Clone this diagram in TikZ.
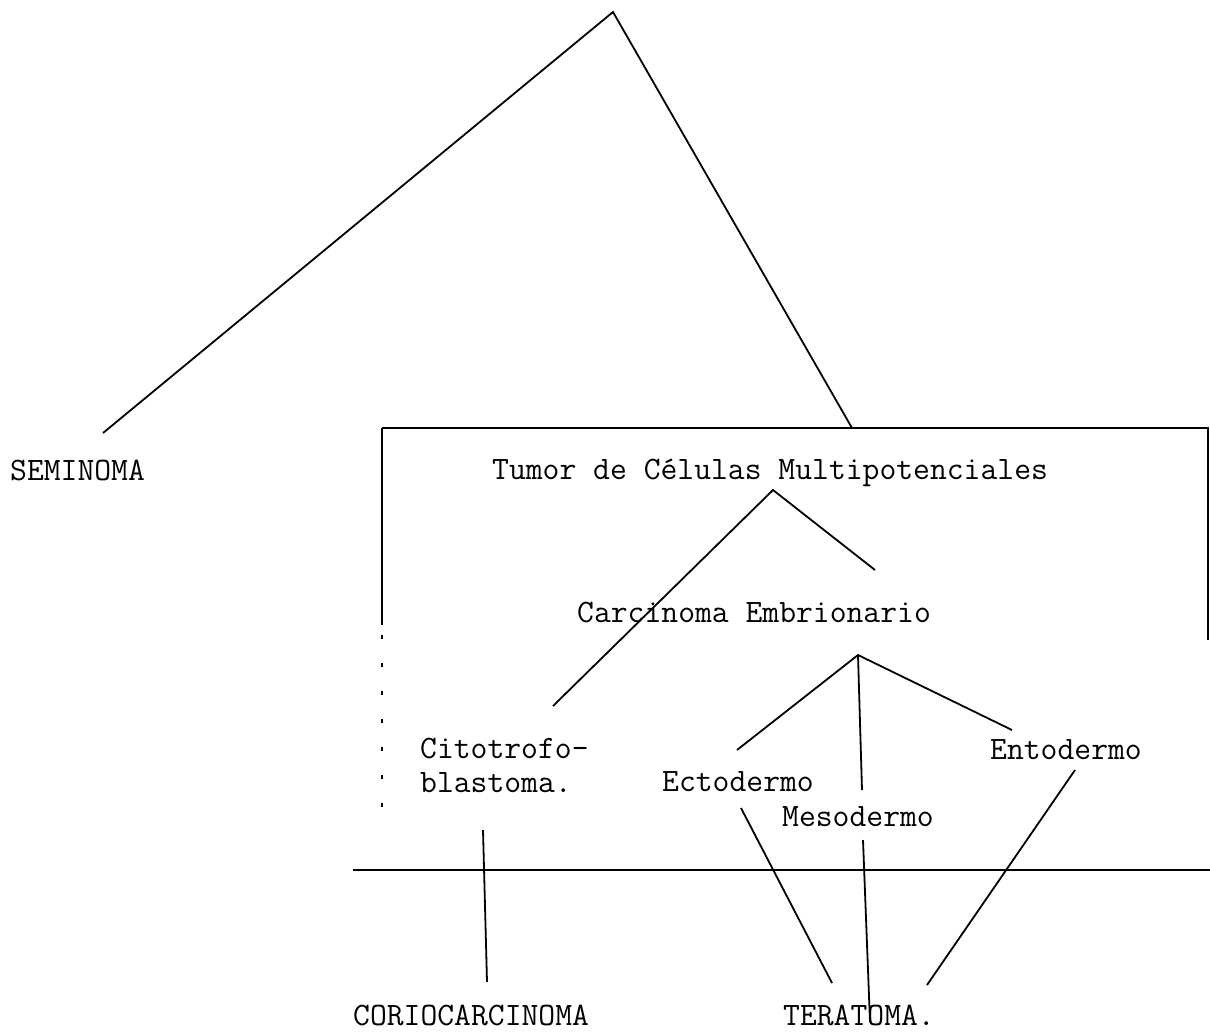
\documentclass[tikz,border=0pt]{standalone}
\usepackage{fontspec}
\begin{document}
\begin{tikzpicture}[x=1pt,y=-1pt,
  lbl/.style={anchor=west,inner sep=0pt,font=\ttfamily\fontsize{32.7}{34}\selectfont},
  ln/.style={line width=1.8pt,black}]
\useasboundingbox (0,0) rectangle (1210,1034);
% text nodes
\node[lbl] (sem) at (10,470) {SEMINOMA};
\node[lbl] (tumor) at (492,473) {Tumor de Células Multipotenciales};
\node[lbl] (carc) at (577,612) {Carcinoma Embrionario};
\node[lbl,align=left] (cito) at (420,765) {Citotrofo-\\[0pt]blastoma.};
\node[lbl] (ecto) at (662,782) {Ectodermo};
\node[lbl] (meso) at (782,817) {Mesodermo};
\node[lbl] (ento) at (990,750) {Entodermo};
\node[lbl] (corio) at (353,1015) {CORIOCARCINOMA};
\node[lbl] (tera) at (783,1015) {TERATOMA.};
% named points
\coordinate (apex) at (613,12);
\coordinate (semE) at (103,433);
\coordinate (boxT) at (852,428);
\coordinate (tA) at (773,490);
\coordinate (tL) at (553,706);
\coordinate (tR) at (875,570);
\coordinate (cA) at (858,655);
\coordinate (cL) at (737,750);
\coordinate (cM) at (862,790);
\coordinate (cR) at (1012,730);
\coordinate (ciB) at (483,830);
\coordinate (coT) at (487,982);
\coordinate (ecB) at (741,808);
\coordinate (teL) at (832,983);
\coordinate (meB) at (863,840);
\coordinate (teM) at (870,1022);
\coordinate (enB) at (1075,770);
\coordinate (teR) at (927,985);
% box and horizontal rule
\draw[ln] (382,428) -- (1208,428) -- (1208,640);
\draw[ln] (382,428) -- (382,625);
\draw[ln,dash pattern=on 4pt off 24pt] (382,635) -- (382,822);
\draw[ln] (353,870) -- (1210,870);
% connectors
\draw[ln] (semE) -- (apex) -- (boxT);
\draw[ln] (tL) -- (tA) -- (tR);
\draw[ln] (cL) -- (cA) -- (cR);
\draw[ln] (cA) -- (cM);
\draw[ln] (ciB) -- (coT);
\draw[ln] (ecB) -- (teL);
\draw[ln] (meB) -- (teM);
\draw[ln] (enB) -- (teR);
\end{tikzpicture}
\end{document}
